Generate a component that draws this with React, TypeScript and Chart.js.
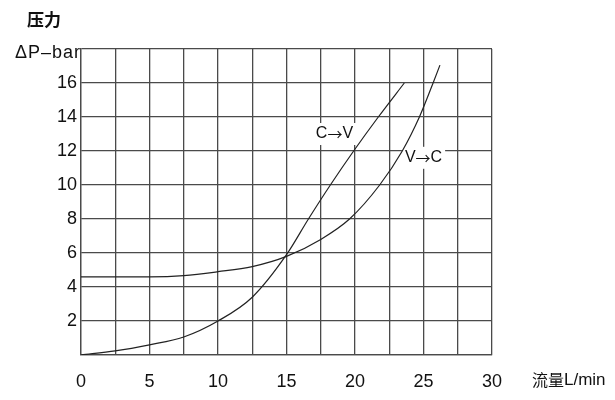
import React, { useEffect, useRef } from "react";
import { Chart, registerables } from "chart.js";

Chart.register(...registerables);

const cvFlow = [0, 2.5, 5, 7.5, 10, 12.5, 15, 16.6, 18.2, 19.9, 21.7, 23.6];
const cvPressure = [0, 0.24, 0.6, 1.06, 2.0, 3.4, 5.9, 8, 10, 12, 14, 16];
const vcFlow = [0, 5, 7.5, 10, 12.5, 15, 17.5, 19.6, 21.8, 23.45, 24.7, 25.7, 26.2];
const vcPressure = [4.6, 4.6, 4.67, 4.9, 5.2, 5.8, 6.8, 8, 10, 12, 14, 16, 17.05];
const xTickLabels = ["0", "5", "10", "15", "20", "25", "30"];
const yTickLabels = ["2", "4", "6", "8", "10", "12", "14", "16"];
const curveLabels = [
  { from: "C", to: "V", x: 18.5, y: 13.0 },
  { from: "V", to: "C", x: 25.0, y: 11.6 },
];

const FONT = "'Liberation Sans', Arial, sans-serif";
const ARROW_FONT = "'Noto Sans CJK SC', sans-serif";
const CJK = "'Noto Sans CJK SC', sans-serif";

const textPlugin = {
  id: "textPlugin",
  beforeDatasetsDraw(chart: any) {
    const ctx = chart.ctx;
    const xs = chart.scales.x;
    const ys = chart.scales.y;
    ctx.save();
    ctx.textAlign = "left";
    ctx.textBaseline = "middle";
    curveLabels.forEach((l) => {
      const px = xs.getPixelForValue(l.x);
      const py = ys.getPixelForValue(l.y);
      ctx.font = `16px ${FONT}`;
      const wa = ctx.measureText(l.from).width;
      const wc = ctx.measureText(l.to).width;
      ctx.font = `15px ${ARROW_FONT}`;
      const wb = ctx.measureText("→").width;
      const w = wa + wb + wc;
      const x0 = px - w / 2;
      ctx.fillStyle = "#fff";
      ctx.fillRect(x0 - 3, py - 11, w + 6, 22);
      ctx.fillStyle = "#111";
      ctx.font = `16px ${FONT}`;
      ctx.fillText(l.from, x0, py);
      ctx.fillText(l.to, x0 + wa + wb, py);
      ctx.font = `15px ${ARROW_FONT}`;
      ctx.fillText("→", x0 + wa, py);
    });
    ctx.restore();
  },
  afterDraw(chart: any) {
    const ctx = chart.ctx;
    const area = chart.chartArea;
    ctx.save();
    ctx.fillStyle = "#111";
    ctx.textBaseline = "middle";
    ctx.font = `bold 17px ${CJK}`;
    ctx.textAlign = "left";
    ctx.fillText("压力", 27, 20);
    ctx.font = `18px ${FONT}`;
    ctx.textAlign = "right";
    (ctx as any).letterSpacing = "1px";
    ctx.fillText("ΔP–bar", area.left, area.top + 4);
    (ctx as any).letterSpacing = "0px";
    ctx.textAlign = "left";
    ctx.font = `16px ${CJK}`;
    const t1 = "流量";
    ctx.fillText(t1, 532, 380);
    const w1 = ctx.measureText(t1).width;
    ctx.font = `17px ${FONT}`;
    ctx.fillText("L/min", 532 + w1, 380);
    ctx.restore();
  },
};

export default function App() {
  const ref = useRef<HTMLCanvasElement>(null);
  useEffect(() => {
    document.body.style.margin = "0";
    const cv = cvFlow.map((x, i) => ({ x, y: cvPressure[i] }));
    const vc = vcFlow.map((x, i) => ({ x, y: vcPressure[i] }));
    const chart = new Chart(ref.current!, {
      type: "line",
      data: {
        datasets: [
          { label: "C→V", data: cv, borderColor: "#222", borderWidth: 1.2, pointRadius: 0, cubicInterpolationMode: "monotone", fill: false },
          { label: "V→C", data: vc, borderColor: "#222", borderWidth: 1.2, pointRadius: 0, cubicInterpolationMode: "monotone", fill: false },
        ],
      },
      options: {
        animation: false,
        responsive: false,
        layout: { padding: { left: 0, right: 123, top: 49, bottom: 0 } },
        plugins: { legend: { display: false }, tooltip: { enabled: false } },
        scales: {
          x: {
            type: "linear",
            min: 0,
            max: 30,
            afterFit: (s: any) => { s.height = 45; },
            ticks: {
              stepSize: 2.5,
              autoSkip: false,
              maxRotation: 0,
              padding: 16,
              color: "#111",
              font: { family: FONT, size: 18 },
              callback: (v: any) => {
                const s = String(v);
                return xTickLabels.includes(s) ? s : "";
              },
            },
            grid: { color: "#4a4a4a", lineWidth: 1.3, drawTicks: false },
            border: { color: "#4a4a4a", width: 1.3 },
          },
          y: {
            type: "linear",
            min: 0,
            max: 18,
            afterFit: (s: any) => { s.width = 81; },
            ticks: {
              stepSize: 2,
              padding: 4,
              color: "#111",
              font: { family: FONT, size: 18 },
              callback: (v: any) => {
                const s = String(v);
                return yTickLabels.includes(s) ? s : "";
              },
            },
            grid: { color: "#4a4a4a", lineWidth: 1.3, drawTicks: false },
            border: { color: "#4a4a4a", width: 1.3 },
          },
        },
      },
      plugins: [textPlugin],
    } as any);
    return () => chart.destroy();
  }, []);
  return <canvas ref={ref} width={615} height={400} style={{ display: "block" }} />;
}
